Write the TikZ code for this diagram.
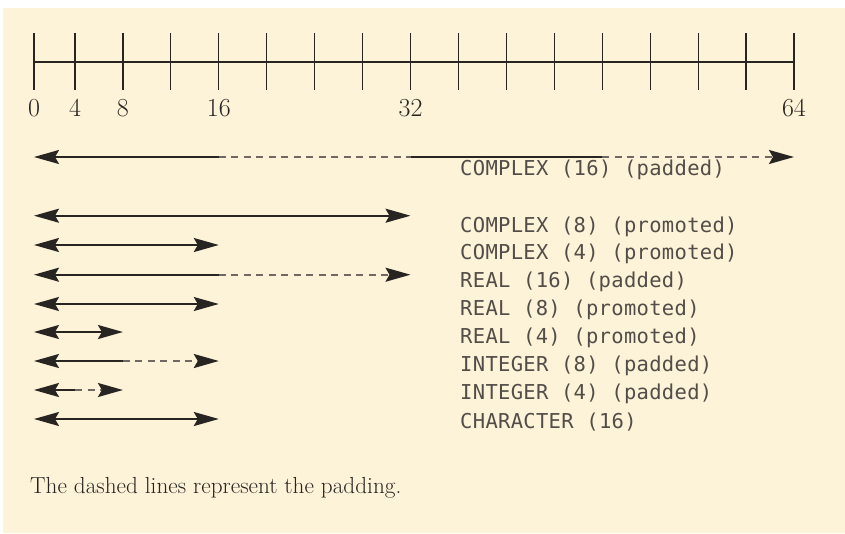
\documentclass[tikz,border=0pt]{standalone}
\usepackage{fontspec}
\usetikzlibrary{arrows.meta}
\usetikzlibrary{positioning}
\newfontfamily\typefont[LetterSpace=1.5]{DejaVu Sans Mono}
\definecolor{paper}{RGB}{253,243,216}
\definecolor{ink}{RGB}{40,36,34}
\definecolor{padgray}{RGB}{112,104,98}
\definecolor{txtgray}{RGB}{82,77,72}
\tikzset{
    >={Stealth[length=25pt,width=14pt,inset=4pt,color=ink]},
    ruler/.style = {draw=ink, line width=1.4pt},
    tickmark/.style = {draw=ink, line width=1.2pt},
    edgen/.style = {draw=ink, line width=2pt}, % data
    edgep/.style = {draw=padgray, line width=2pt, dash pattern=on 7pt off 5.5pt}, % padding
    numlabel/.style = {inner sep=0pt, text=ink, font=\fontsize{26}{26}\selectfont},
    typelabel/.style = {anchor=west, inner sep=0pt, text=txtgray, font=\typefont\fontsize{20.5}{21}\selectfont},
    notelabel/.style = {anchor=west, inner sep=0pt, text=ink, font=\fontsize{23.2}{24}\selectfont}
}

\begin{document}
\begin{tikzpicture}[x=1pt,y=-1pt]
  \useasboundingbox (0,0) rectangle (845,533);
  \fill[paper] (2.5,8) rectangle (845,533);

  % ruler
  \coordinate (t0) at (34,62);
  \foreach \k in {1,...,16}
    \coordinate (t\k) at ({75+(\k-1)*47.93},62);
  \draw[ruler] (t0) -- (t16);
  \foreach \k in {0,...,16}
    \draw[tickmark] (t\k) ++(0,-29) -- ++(0,57);
  \foreach \k/\v in {0/0,1/4,2/8,4/16,8/32,16/64}
    \node[numlabel] (n\v) at ([yshift=-46pt]t\k) {\v};

  % COMPLEX (16)
  \coordinate (a0) at (34,157);
  \draw[edgen,<-] (a0) -- (t4 |- a0);
  \draw[edgep] (t4 |- a0) -- (t8 |- a0);
  \draw[edgen] (t8 |- a0) -- (t12 |- a0);
  \draw[edgep,->] (t12 |- a0) -- (t16 |- a0);
  \node[typelabel] (l0) at (460,170) {COMPLEX (16) (padded)};

  % the other kinds
  \foreach \i/\ya/\yt/\s/\p/\txt in {
      1/215.7/226.7/8/8/{COMPLEX (8) (promoted)},
      2/245/254/4/4/{COMPLEX (4) (promoted)},
      3/274.7/282/4/8/{REAL (16) (padded)},
      4/304/310/4/4/{REAL (8) (promoted)},
      5/332/338/2/2/{REAL (4) (promoted)},
      6/361/366/2/4/{INTEGER (8) (padded)},
      7/390/394/1/2/{INTEGER (4) (padded)},
      8/419/422/4/4/{CHARACTER (16)}}
  {
    \coordinate (a\i) at (34,\ya);
    \ifnum\s=\p
      \draw[edgen,<->] (a\i) -- (t\s |- a\i);
    \else
      \draw[edgen,<-] (a\i) -- (t\s |- a\i);
      \draw[edgep,->] (t\s |- a\i) -- (t\p |- a\i);
    \fi
    \node[typelabel] (l\i) at (460,\yt) {\txt};
  }

  \node[notelabel] (note) at (30,488) {The dashed lines represent the padding.};
\end{tikzpicture}
\end{document}
